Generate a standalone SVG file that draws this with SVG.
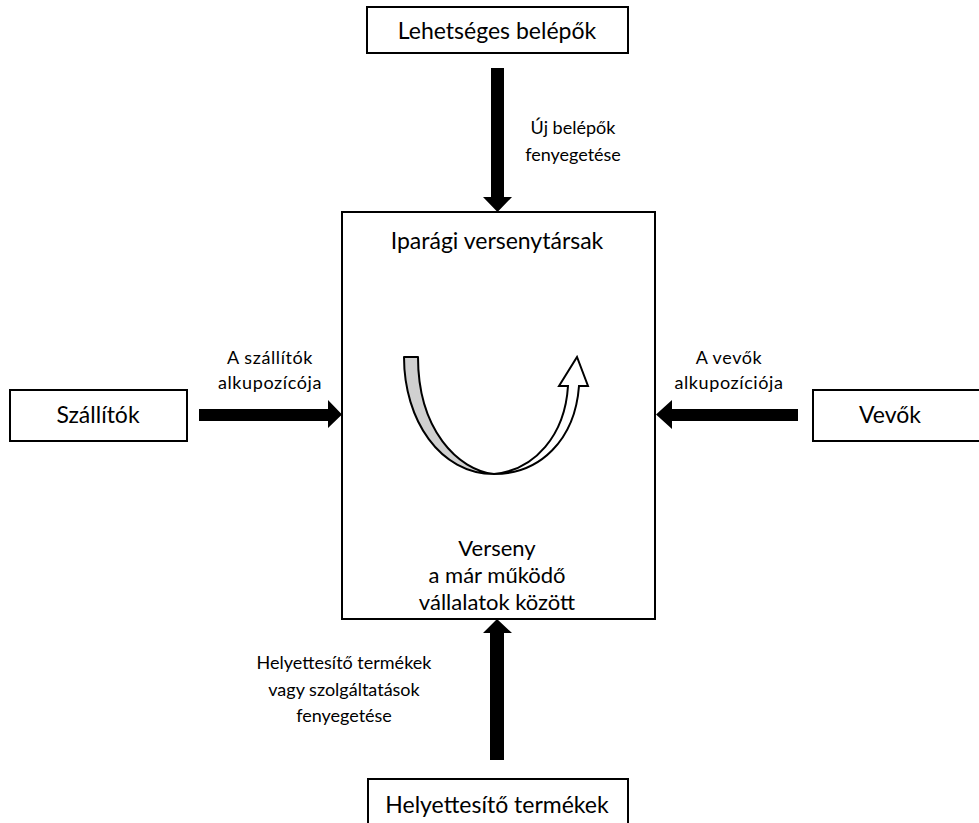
<svg xmlns="http://www.w3.org/2000/svg" width="979" height="823" viewBox="0 0 979 823">
<style>
.box{fill:#fff;stroke:#000;stroke-width:2}
.t{font-family:Lato,"Open Sans","Liberation Sans",sans-serif;fill:#000;text-anchor:middle}
.big{font-size:23px}
.mid{font-size:22px}
.lbl{font-size:18px}
.sp{letter-spacing:0.6px}
.arr{fill:#000}
</style>
<rect width="979" height="823" fill="#fff"/>
<g id="competitors">
<rect class="box" x="342" y="212" width="313" height="407"/>
<text class="t big" x="497" y="249">Iparági versenytársak</text>
<path d="M404,357 L418,357 C418,430 458,470 494,474 C440,474 404,420 404,357 Z" fill="#d0d0d0" stroke="#000" stroke-width="2" stroke-linejoin="round"/>
<path d="M494,474 C540,474 575,440 579,386 L588,386 L577,357 L559,386 L568,386 C565,435 535,470 494,474 Z" fill="#fff" stroke="#000" stroke-width="2" stroke-linejoin="miter"/>
<text class="t mid" x="497" y="556">Verseny</text>
<text class="t mid" x="497" y="583">a már működő</text>
<text class="t mid" x="497" y="610">vállalatok között</text>
</g>
<g id="entrants">
<rect class="box" x="367" y="7" width="261" height="46"/>
<text class="t big" x="497" y="39">Lehetséges belépők</text>
</g>
<g id="suppliers">
<rect class="box" x="10" y="390" width="177" height="51"/>
<text class="t big" x="98" y="423">Szállítók</text>
</g>
<g id="buyers">
<rect class="box" x="813" y="390" width="180" height="51"/>
<text class="t big" x="890" y="423">Vevők</text>
</g>
<g id="substitutes">
<rect class="box" x="368" y="779" width="260" height="60"/>
<text class="t big" x="497" y="813">Helyettesítő termékek</text>
</g>
<g id="connectors">
<polygon class="arr" points="491,68 504,68 504,197 512,197 497.5,212 483,197 491,197"/>
<polygon class="arr" points="199,409 328,409 328,400 342,414.5 328,428 328,421 199,421"/>
<polygon class="arr" points="798,409 672,409 672,400 656,414.5 672,429 672,421 798,421"/>
<polygon class="arr" points="490,760 504,760 504,633 512,633 497,619 483,633 490,633"/>
<text class="t lbl" x="573" y="134">Új belépők</text>
<text class="t lbl" x="573" y="161">fenyegetése</text>
<text class="t lbl sp" x="270" y="364">A szállítók</text>
<text class="t lbl sp" x="270" y="389">alkupozícója</text>
<text class="t lbl sp" x="729" y="364">A vevők</text>
<text class="t lbl sp" x="729" y="389">alkupozíciója</text>
<text class="t lbl" x="344" y="669">Helyettesítő termékek</text>
<text class="t lbl" x="344" y="696">vagy szolgáltatások</text>
<text class="t lbl" x="344" y="722">fenyegetése</text>
</g>
</svg>
